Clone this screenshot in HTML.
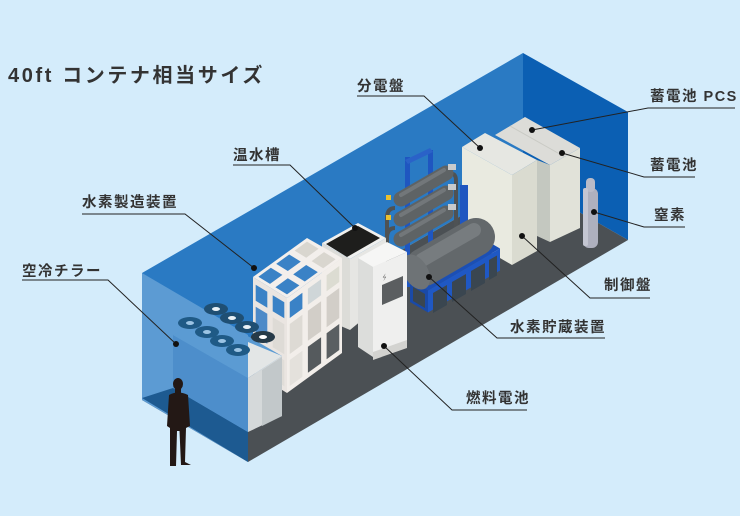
<!DOCTYPE html>
<html><head><meta charset="utf-8"><style>
html,body{margin:0;padding:0;background:#d4ecfb;}
svg{display:block}
.t{font-family:"Liberation Sans","Noto Sans CJK JP",sans-serif;font-weight:bold;fill:#333;}
</style></head><body>
<svg width="740" height="516" viewBox="0 0 740 516" xmlns="http://www.w3.org/2000/svg">
<rect width="740" height="516" fill="#d4ecfb"/>
<polygon points="142,273 523,53 523,180 142,400" fill="#2a7ac3"/>
<polygon points="523,53 628,112 628,240 523,180" fill="#0b5fb3"/>
<polygon points="142,400 523,180 628,240 248,462" fill="#4b5054"/>

<polygon points="495,135 525,117 580,148 550,165" fill="#dcdcd8"/>
<line x1="510" y1="126" x2="565" y2="157" stroke="#c9cac4" stroke-width="1"/>
<polygon points="537,160 550,165 550,242 537,236" fill="#c4c8c0"/>
<polygon points="550,165 580,148 580,228 550,242" fill="#e1e2d9"/>
<polygon points="462,147 485,133 537,160 512,175" fill="#e6e7e2"/>
<polygon points="462,147 512,175 512,265 462,236" fill="#e9eae0"/>
<polygon points="512,175 537,160 537,251 512,265" fill="#dadbd0"/>
<rect x="583" y="188" width="15" height="60" rx="6" fill="#aeb0be"/>
<rect x="586" y="178" width="9" height="14" rx="4" fill="#b9bbc8"/>
<rect x="583" y="188" width="5" height="58" rx="2" fill="#c4c6d2"/>

<rect x="405" y="157" width="5" height="130" fill="#1f56c0"/>
<rect x="428" y="150" width="5" height="130" fill="#1f56c0"/>
<polygon points="405,160 430,148 433,152 408,164" fill="#2a62c8"/>
<rect x="460" y="185" width="8" height="40" fill="#1f56c0"/>
<path d="M395,208 q-8,0 -8,10 v40" stroke="#4e5254" stroke-width="4" fill="none"/>
<path d="M395,228 q-8,0 -8,10 v30" stroke="#4e5254" stroke-width="4" fill="none"/>
<path d="M448,175 q8,-4 8,6 v60" stroke="#4e5254" stroke-width="4" fill="none"/>
<g stroke-linecap="round">
<line x1="401" y1="199" x2="446" y2="173" stroke="#5e6365" stroke-width="15"/>
<line x1="401" y1="219" x2="446" y2="193" stroke="#5e6365" stroke-width="15"/>
<line x1="401" y1="239" x2="446" y2="213" stroke="#5e6365" stroke-width="15"/>
<line x1="401" y1="195" x2="444" y2="170" stroke="#72777a" stroke-width="4"/>
<line x1="401" y1="215" x2="444" y2="190" stroke="#72777a" stroke-width="4"/>
<line x1="401" y1="235" x2="444" y2="210" stroke="#72777a" stroke-width="4"/>
</g>
<rect x="386" y="195" width="5" height="5" fill="#e9c030"/>
<rect x="386" y="215" width="5" height="5" fill="#e9c030"/>
<rect x="448" y="164" width="8" height="6" fill="#c9cbcc"/>
<rect x="448" y="184" width="8" height="6" fill="#c9cbcc"/>
<rect x="448" y="204" width="8" height="6" fill="#c9cbcc"/>
<polygon points="410,280 482,238 500,248.5 428,290.5" fill="#1b4fb5"/>
<polygon points="428,290.5 500,248.5 500,270.5 428,312.5" fill="#1f58c4"/>
<polygon points="410,280 428,290.5 428,312.5 410,302" fill="#1a4aa8"/>
<g fill="#3a4650">
<polygon points="433,293 447,285 447,305 433,313"/>
<polygon points="452,282 466,274 466,294 452,302"/>
<polygon points="471,271 485,263 485,283 471,291"/>
<polygon points="489,260 497,255.5 497,275.5 489,280"/>
<polygon points="413,287 425,294 425,308 413,301"/>
</g>
<line x1="424" y1="267" x2="476" y2="237" stroke="#63686b" stroke-width="38" stroke-linecap="round"/>
<line x1="422" y1="260" x2="474" y2="230" stroke="#777c7f" stroke-width="14" stroke-linecap="round"/>
<ellipse cx="416" cy="272" rx="12" ry="19" fill="#6e7376" transform="rotate(-30 416 272)"/>

<polygon points="322,243 358,223 386,238 350,259" fill="#f0f0ee"/>
<polygon points="326,244 358,226 380,238 347,257" fill="#1e1e1c"/>
<polygon points="322,243 350,259 350,330 322,318" fill="#dcdcd8"/>
<polygon points="350,259 386,238 386,300 350,330" fill="#e6e6e3"/>

<polygon points="358,258 387,242 407,252 373,267" fill="#f6f6f5"/>
<polygon points="358,258 373,267 373,357 358,347" fill="#dcdddb"/>
<polygon points="373,267 407,252 407,345 373,357" fill="#efefee"/>
<polygon points="373,352 407,340 407,348 373,360" fill="#d3d3d0"/>
<polygon points="382,285 403,276 403,296 382,305" fill="#5b5e60"/>
<text x="383" y="281" font-family="DejaVu Sans,sans-serif" font-size="8" fill="#666" transform="rotate(-22 383 281)">⚡</text>

<polygon points="253,277 307,238 342,258 287,298" fill="#f3efec"/>
<polygon points="253,277 287,298 287,393 253,372" fill="#eae5e1"/>
<polygon points="287,298 342,258 342,353 287,393" fill="#f2eeea"/>
<g fill="#3a82c6">
<polygon points="258.4,276.75 270.8,267.8 282.4,274.9 270,283.85"/>
<polygon points="276.2,263.9 289.2,254.5 300.8,261.6 287.8,271"/>
<polygon points="294.6,250.6 307,241.6 318.6,248.7 306.2,257.7" fill="#d9d6cf"/>
<polygon points="275.4,287.25 287.8,278.3 299.4,285.4 287,294.35"/>
<polygon points="293.2,274.4 306.2,265 317.8,272.1 304.8,281.5"/>
<polygon points="311.6,261.1 324,252.1 335.6,259.2 323.2,268.2" fill="#d9d6cf"/>
<polygon points="255.7,284.7 267.3,291.8 267.3,307.8 255.7,300.7"/>
<polygon points="272.7,295.2 284.3,302.3 284.3,318.3 272.7,311.2"/>
<polygon points="289.75,302 302.4,292.8 302.4,308.8 289.75,318"/>
<polygon points="307.9,288.8 321.1,279.2 321.1,295.2 307.9,304.8" fill="#cfd6d8"/>
<polygon points="326.6,275.2 339.25,266 339.25,282 326.6,291.2" fill="#dcdcd2"/>
</g>
<g fill="#d2cec8">
<polygon points="255.7,306.7 267.3,313.8 267.3,343.8 255.7,336.7" fill="#4d8ac8"/>
<polygon points="255.7,342.7 267.3,349.8 267.3,375.8 255.7,368.7"/>
<polygon points="272.7,317.2 284.3,324.3 284.3,354.3 272.7,347.2" fill="#dedbd6"/>
<polygon points="272.7,353.2 284.3,360.3 284.3,386.3 272.7,379.2" fill="#e0ddd8"/>
<polygon points="289.75,324 302.4,314.8 302.4,344.8 289.75,354" fill="#dddad4"/>
<polygon points="289.75,360 302.4,350.8 302.4,376.8 289.75,386" fill="#e4e1dc"/>
<polygon points="307.9,310.8 321.1,301.2 321.1,331.2 307.9,340.8"/>
<polygon points="307.9,346.8 321.1,337.2 321.1,363.2 307.9,372.8" fill="#555a5d"/>
<polygon points="326.6,297.2 339.25,288 339.25,318 326.6,327.2"/>
<polygon points="326.6,333.2 339.25,324 339.25,350 326.6,359.2" fill="#5a5f62"/>
</g>

<polygon points="142,273 248,335 248,462 142,400" fill="#5c9bd3"/>
<polygon points="142,398 173,388 248,432 248,462" fill="#1d5a91"/>
<polygon points="173,335 248,378 248,432 173,388" fill="#4d8ecb"/>
<polygon points="248,378 282,356 282,416 248,432" fill="#d5d9da"/>
<polygon points="262,370 282,357 282,416 262,426" fill="#c2c8ca"/>
<polygon points="173,335 208,313 282,356 248,378" fill="#5b9bd3"/>
<polygon points="248,342 282,356 248,378" fill="#e3e6e6"/>
<g>
<ellipse cx="216" cy="309" rx="12" ry="6" fill="#1f4f73"/><ellipse cx="216" cy="309" rx="4" ry="2" fill="#e9f1f6"/>
<ellipse cx="232" cy="318" rx="12" ry="6" fill="#1f4f73"/><ellipse cx="232" cy="318" rx="4" ry="2" fill="#e9f1f6"/>
<ellipse cx="247" cy="327" rx="12" ry="6" fill="#1f4f73"/><ellipse cx="247" cy="327" rx="4" ry="2" fill="#e9f1f6"/>
<ellipse cx="263" cy="337" rx="12" ry="6" fill="#263a48"/><ellipse cx="263" cy="337" rx="4" ry="2" fill="#fff"/>
<ellipse cx="190" cy="323" rx="12" ry="6" fill="#1f5a86"/><ellipse cx="190" cy="323" rx="4" ry="2" fill="#9cc4e4"/>
<ellipse cx="207" cy="332" rx="12" ry="6" fill="#1f5a86"/><ellipse cx="207" cy="332" rx="4" ry="2" fill="#9cc4e4"/>
<ellipse cx="222" cy="341" rx="12" ry="6" fill="#1f5a86"/><ellipse cx="222" cy="341" rx="4" ry="2" fill="#9cc4e4"/>
<ellipse cx="238" cy="350" rx="12" ry="6" fill="#1f5a86"/><ellipse cx="238" cy="350" rx="4" ry="2" fill="#9cc4e4"/>
</g>

<g fill="#231815">
<ellipse cx="178" cy="384" rx="5" ry="6"/>
<rect x="175" y="388" width="6" height="6"/>
<path d="M169,395 Q178,390 188,395 L190,426 L186,428 L185,462 L191,465 L181,465 L179.5,431 L177,431 L176,466 L170,466 L170,428 L167,426 Z"/>
</g>

<g stroke="#222" stroke-width="1" fill="none">
<polyline points="233,165 290,165 355,228"/>
<polyline points="82,214 185,214 254,268"/>
<polyline points="22,280 108,280 176,344"/>
<polyline points="357,96 424,96 480,148"/>
<polyline points="532,130 648,108 735,108"/>
<polyline points="562,153 644,177 695,177"/>
<polyline points="594,212 644,227 685,227"/>
<polyline points="522,236 590,298 650,298"/>
<polyline points="429,277 497,338 605,338"/>
<polyline points="384,346 452,410 527,410"/>
</g>
<g fill="#111">
<circle cx="355" cy="228" r="3"/><circle cx="254" cy="268" r="3"/><circle cx="176" cy="344" r="3"/>
<circle cx="480" cy="148" r="3"/><circle cx="532" cy="130" r="3"/><circle cx="562" cy="153" r="3"/>
<circle cx="594" cy="212" r="3"/><circle cx="522" cy="236" r="3"/><circle cx="429" cy="277" r="3"/>
<circle cx="384" cy="346" r="3"/>
</g>

<text class="t" x="8" y="82" font-size="20" letter-spacing="2.6">40ft コンテナ相当サイズ</text>
<g class="t" font-size="14.5" letter-spacing="1.5">
<text class="t" x="233" y="160">温水槽</text>
<text class="t" x="82" y="207">水素製造装置</text>
<text class="t" x="22" y="276">空冷チラー</text>
<text class="t" x="357" y="91">分電盤</text>
<text class="t" x="650" y="101">蓄電池 PCS</text>
<text class="t" x="650" y="170">蓄電池</text>
<text class="t" x="654" y="220">窒素</text>
<text class="t" x="604" y="290">制御盤</text>
<text class="t" x="510" y="332">水素貯蔵装置</text>
<text class="t" x="466" y="403">燃料電池</text>
</g>
</svg>
</body></html>
